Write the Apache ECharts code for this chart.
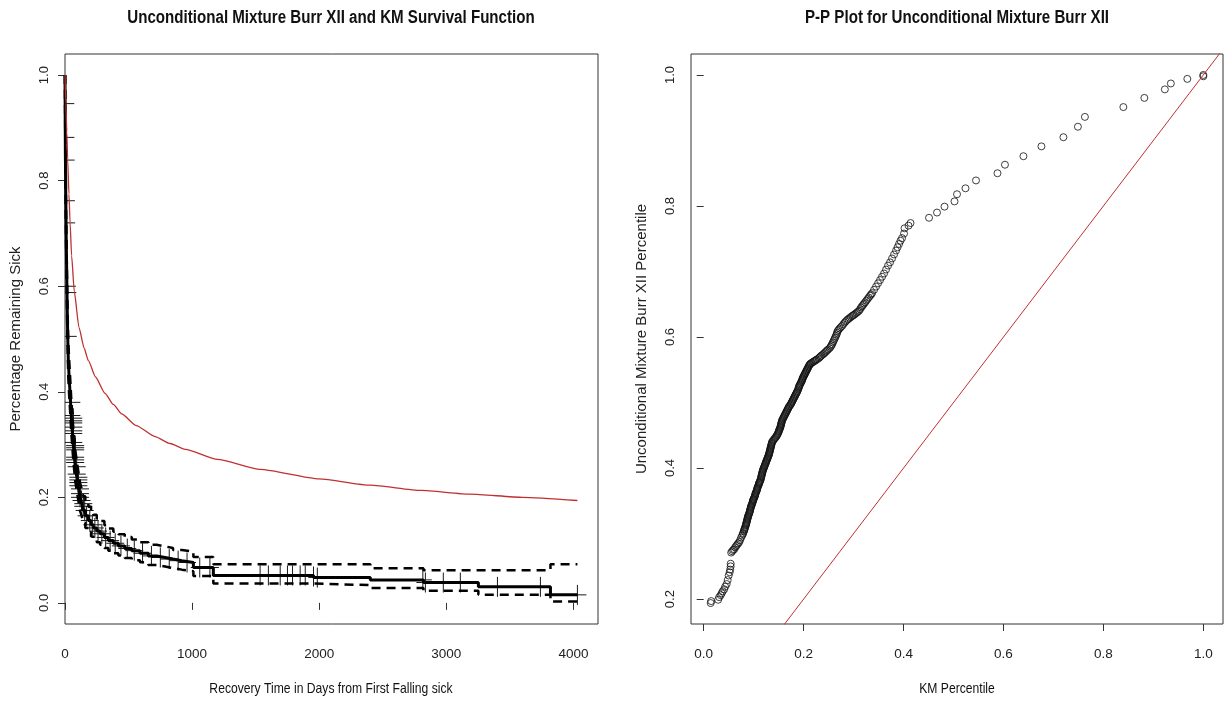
<!DOCTYPE html>
<html><head><meta charset="utf-8">
<script src="https://cdn.jsdelivr.net/npm/echarts@6/dist/echarts.min.js"></script>
<style>html,body{margin:0;padding:0;background:#fff}#c{width:1226px;height:701px}</style>
</head><body><div id="c"></div>
<script>
// ---- Left panel: Kaplan-Meier estimate (step), confidence band, censor marks, fitted survival
const KM_T  = [0,1,2,3,5,7,9,12,15,18,22,26,32,39,50,65,80,92,105,118,130,144,160,184,205,223,250,276,310,341,380,420,470,525,590,656,720,787,850,919,1010,1167,1955,2402,2820,3252,3819,4031];
const KM_S  = [1.0,0.95,0.90,0.85,0.80,0.75,0.70,0.65,0.60,0.55,0.50,0.46,0.43,0.40,0.35,0.30,0.26,0.24,0.22,0.20,0.19,0.175,0.165,0.156,0.148,0.142,0.136,0.131,0.124,0.118,0.113,0.108,0.103,0.099,0.094,0.089,0.086,0.083,0.080,0.0765,0.067,0.052,0.048,0.0436,0.0386,0.0304,0.0152,0.0152];
const KM_UP = [1.0,0.97,0.925,0.88,0.83,0.78,0.735,0.685,0.635,0.585,0.535,0.495,0.464,0.434,0.383,0.332,0.291,0.270,0.249,0.228,0.217,0.202,0.191,0.182,0.173,0.167,0.160,0.155,0.147,0.141,0.135,0.130,0.125,0.120,0.115,0.110,0.107,0.104,0.100,0.097,0.087,0.0734,0.0734,0.0658,0.062,0.062,0.0734,0.0734];
const KM_LO = [1.0,0.93,0.875,0.82,0.77,0.72,0.665,0.615,0.565,0.515,0.465,0.426,0.397,0.368,0.320,0.271,0.232,0.213,0.194,0.175,0.166,0.152,0.142,0.134,0.126,0.121,0.115,0.110,0.104,0.099,0.094,0.090,0.085,0.081,0.077,0.072,0.069,0.066,0.063,0.060,0.051,0.0366,0.0336,0.028,0.0228,0.0152,0.0025,0.0025];
const CENS_T = [2,3,5,7,9,15,18,22,50,50,65,65,65,65,65,65,65,80,80,80,80,80,80,92,92,105,105,105,105,118,118,118,130,144,144,
  155,170,195,215,235,260,290,320,355,395,440,490,545,610,680,750,820,890,960,1060,1140,1535,1600,1693,1750,1790,1850,1890,1955,1985,2815,2835,2976,3110,3402,3740,4031];
const CENS_S = [0.946,0.882,0.839,0.762,0.720,0.600,0.588,0.505,0.380,0.355,0.350,0.345,0.341,0.333,0.326,0.321,0.304,0.298,0.294,0.290,0.276,0.271,0.266,0.258,0.244,0.238,0.233,0.228,0.222,0.216,0.207,0.200,0.194,0.188,0.183,
  0.175,0.165,0.156,0.148,0.142,0.136,0.131,0.124,0.118,0.113,0.108,0.103,0.099,0.094,0.089,0.086,0.083,0.080,0.0765,0.067,0.067,0.052,0.052,0.052,0.052,0.052,0.052,0.052,0.050,0.048,0.0436,0.0386,0.0386,0.0386,0.0304,0.0304,0.0152];
const FIT_T = [0,7,14,21,31,40,52,73,110,150,184,240,315,380,446,560,709,827,945,1200,1535,2000,2402,2800,3189,3600,4031];
const FIT_S = [1.0,0.945,0.893,0.840,0.775,0.720,0.658,0.590,0.522,0.483,0.459,0.428,0.397,0.376,0.358,0.336,0.315,0.302,0.291,0.272,0.253,0.235,0.223,0.213,0.206,0.200,0.194];
const LEFT_X_TICKS = [0,1000,2000,3000,4000];
const LEFT_Y_TICKS = [0,0.2,0.4,0.6,0.8,1.0];

// ---- Right panel: P-P plot (KM percentile, model percentile)
const PP_POINTS = [
[0.014,0.194],[0.015,0.197],[0.029,0.199],[0.031,0.203],[0.034,0.206],[0.036,0.209],[0.038,0.212],[0.041,0.215],[0.043,0.219],[0.046,0.223],[0.048,0.229],[0.050,0.236],[0.052,0.241],[0.053,0.245],[0.054,0.250],[0.054,0.254],
[0.055,0.271],[0.057,0.273],[0.059,0.275],[0.061,0.276],[0.063,0.279],[0.065,0.281],[0.067,0.283],[0.069,0.285],[0.071,0.287],[0.073,0.290],[0.075,0.294],[0.077,0.297],[0.079,0.301],[0.081,0.305],[0.082,0.308],[0.084,0.312],[0.085,0.315],[0.086,0.318],[0.087,0.321],[0.088,0.324],[0.089,0.327],[0.091,0.330],[0.092,0.333],[0.093,0.336],[0.094,0.339],[0.095,0.342],[0.097,0.345],[0.098,0.348],[0.099,0.351],[0.100,0.353],[0.102,0.356],[0.103,0.359],[0.104,0.362],[0.106,0.365],[0.107,0.368],[0.108,0.371],[0.110,0.374],[0.111,0.377],[0.112,0.379],[0.114,0.382],[0.115,0.386],[0.116,0.389],[0.117,0.392],[0.118,0.395],[0.119,0.398],[0.121,0.401],[0.122,0.404],[0.124,0.407],[0.125,0.410],[0.127,0.413],[0.128,0.416],[0.130,0.419],[0.131,0.422],[0.132,0.425],[0.133,0.428],[0.134,0.431],[0.135,0.434],[0.136,0.437],[0.137,0.440],[0.140,0.443],[0.143,0.446],[0.146,0.449],[0.148,0.452],[0.150,0.455],[0.151,0.458],[0.153,0.461],[0.154,0.464],[0.155,0.467],[0.156,0.470],[0.157,0.473],[0.159,0.476],[0.161,0.479],[0.163,0.482],[0.165,0.485],[0.167,0.488],[0.169,0.491],[0.171,0.494],[0.174,0.497],[0.176,0.500],[0.178,0.503],[0.180,0.506],[0.182,0.509],[0.184,0.512],[0.186,0.515],[0.188,0.518],[0.190,0.522],[0.191,0.525],[0.193,0.528],[0.195,0.531],[0.197,0.534],[0.198,0.537],[0.200,0.540],[0.202,0.543],[0.204,0.546],[0.206,0.549],[0.208,0.552],[0.210,0.555],[0.212,0.558],[0.215,0.560],[0.219,0.562],[0.223,0.564],[0.227,0.566],[0.232,0.569],[0.236,0.572],[0.241,0.575],[0.245,0.578],[0.249,0.581],[0.254,0.585],[0.257,0.589],[0.260,0.594],[0.263,0.599],[0.266,0.604],[0.268,0.609],[0.272,0.613],[0.277,0.617],[0.282,0.622],[0.287,0.626],[0.292,0.629],[0.297,0.632],[0.301,0.634],[0.306,0.637],[0.311,0.640],[0.315,0.645],[0.319,0.649],[0.323,0.653],[0.328,0.658],[0.333,0.663],[0.337,0.667],[0.341,0.672],[0.345,0.677],[0.349,0.682],[0.353,0.687],[0.357,0.692],[0.361,0.697],[0.365,0.703],[0.369,0.709],[0.373,0.714],[0.377,0.720],[0.381,0.726],[0.385,0.732],[0.388,0.737],[0.391,0.742],[0.394,0.747],[0.397,0.751],[0.401,0.758],[0.402,0.766],[0.410,0.770],[0.414,0.774],
[0.0785,0.2995],[0.0805,0.3035],[0.0818,0.3065],[0.0832,0.3100],[0.0847,0.3135],[0.0857,0.3165],[0.0867,0.3195],[0.0877,0.3225],[0.0887,0.3255],[0.0898,0.3285],[0.0913,0.3315],[0.0925,0.3345],[0.0935,0.3375],[0.0945,0.3405],[0.0958,0.3435],[0.0973,0.3465],[0.0985,0.3495],[0.0995,0.3520],[0.1010,0.3545],[0.1025,0.3575],[0.1035,0.3605],[0.1050,0.3635],[0.1065,0.3665],[0.1075,0.3695],[0.1090,0.3725],[0.1105,0.3755],[0.1115,0.3780],[0.1130,0.3805],[0.1145,0.3840],[0.1155,0.3875],[0.1165,0.3905],[0.1175,0.3935],[0.1185,0.3965],[0.1200,0.3995],[0.1215,0.4025],[0.1230,0.4055],[0.1245,0.4085],[0.1260,0.4115],[0.1275,0.4145],[0.1290,0.4175],[0.1305,0.4205],[0.1315,0.4235],[0.1325,0.4265],[0.1335,0.4295],[0.1345,0.4325],[0.1355,0.4355],[0.1365,0.4385],[0.1385,0.4415],[0.1415,0.4445],[0.1445,0.4475],[0.1470,0.4505],[0.1490,0.4535],[0.1505,0.4565],[0.1520,0.4595],[0.1535,0.4625],[0.1545,0.4655],[0.1555,0.4685],[0.1565,0.4715],[0.1580,0.4745],[0.1600,0.4775],[0.1620,0.4805],[0.1640,0.4835],[0.1660,0.4865],[0.1680,0.4895],[0.1700,0.4925],[0.1725,0.4955],[0.1750,0.4985],[0.1770,0.5015],[0.1790,0.5045],[0.1810,0.5075],[0.1830,0.5105],[0.1850,0.5135],[0.1870,0.5165],[0.1890,0.5200],[0.1905,0.5235],[0.1920,0.5265],[0.1940,0.5295],[0.1960,0.5325],[0.1975,0.5355],[0.1990,0.5385],[0.2010,0.5415],[0.2030,0.5445],[0.2050,0.5475],[0.2070,0.5505],[0.2090,0.5535],[0.2110,0.5565],[0.2135,0.5590],
[0.217,0.561],[0.221,0.563],[0.225,0.565],[0.230,0.5675],[0.234,0.5705],[0.239,0.5735],[0.243,0.5765],[0.247,0.5795],[0.252,0.583],[0.2555,0.587],[0.2585,0.5915],[0.2615,0.5965],[0.2645,0.6015],[0.267,0.6065],[0.270,0.611],[0.2745,0.615],[0.2795,0.6195],[0.2845,0.624],[0.2895,0.6275],[0.2945,0.6305],[0.299,0.633],[0.3035,0.6355],[0.3085,0.6385],[0.313,0.6425],[0.317,0.647],[0.321,0.651],[0.3255,0.6555],[0.3305,0.6605],[0.335,0.665],
[0.451,0.782],[0.467,0.790],[0.482,0.799],[0.502,0.807],[0.507,0.818],[0.524,0.827],[0.545,0.839],[0.588,0.850],[0.603,0.863],[0.640,0.876],[0.676,0.891],[0.720,0.905],[0.749,0.921],[0.763,0.936],[0.840,0.951],[0.882,0.965],[0.923,0.978],[0.935,0.987],[0.968,0.994],[1.000,0.998],[1.000,1.000]
];
const REF_LINE = [-0.1, 1.1];
const RIGHT_X_TICKS = [0,0.2,0.4,0.6,0.8,1.0];
const RIGHT_Y_TICKS = [0.2,0.4,0.6,0.8,1.0];

const REG = "'Liberation Sans',Arial,sans-serif";
const RED = '#C03030';
const AX = '#333';

function stepData(T, S) {
  const out = [];
  for (let i = 0; i < T.length; i++) {
    if (i > 0) out.push([T[i], S[i - 1]]);
    out.push([T[i], S[i]]);
  }
  return out;
}
const zip = (a, b) => a.map((v, i) => [v, b[i]]);

function xAxisCfg(grid, min, max, ticks, fmt) {
  return {
    gridIndex: grid, type: 'value', min: min, max: max,
    axisLine: {show: false}, splitLine: {show: false},
    axisTick: {show: true, customValues: ticks, length: 7, lineStyle: {color: AX}},
    axisLabel: {customValues: ticks, margin: 23, fontFamily: REG, fontSize: 13.5, color: '#222', formatter: fmt}
  };
}
function yAxisCfg(grid, min, max, ticks, name) {
  return {
    gridIndex: grid, type: 'value', min: min, max: max,
    axisLine: {show: false}, splitLine: {show: false},
    axisTick: {show: true, customValues: ticks, length: 7, lineStyle: {color: AX}},
    axisLabel: {customValues: ticks, rotate: 90, margin: 14, fontFamily: REG, fontSize: 13, color: '#222',
      formatter: v => Number(v).toFixed(1)},
    name: name, nameLocation: 'middle', nameGap: 42,
    nameTextStyle: {fontFamily: REG, fontSize: 15, color: '#222'}
  };
}
function label(x, y, text, font, sx) {
  return {type: 'text', x: x, y: y, scaleX: sx, silent: true,
    style: {text: text, font: font, fill: '#111', align: 'center', verticalAlign: 'middle',
            textAlign: 'center', textVerticalAlign: 'middle'}};
}

const chart = echarts.init(document.getElementById('c'), null, {renderer: 'canvas'});
chart.setOption({
  animation: false,
  backgroundColor: '#fff',
  grid: [
    {left: 65, top: 54, width: 533, height: 570, show: true, borderColor: AX, borderWidth: 1, backgroundColor: 'transparent'},
    {left: 691, top: 54, width: 532, height: 570, show: true, borderColor: AX, borderWidth: 1, backgroundColor: 'transparent'}
  ],
  xAxis: [
    xAxisCfg(0, 0, 4193, LEFT_X_TICKS, v => String(v)),
    xAxisCfg(1, -0.0254, 1.0394, RIGHT_X_TICKS, v => Number(v).toFixed(1))
  ],
  yAxis: [
    yAxisCfg(0, -0.04, 1.04, LEFT_Y_TICKS, 'Percentage Remaining Sick'),
    yAxisCfg(1, 0.162, 1.032, RIGHT_Y_TICKS, 'Unconditional Mixture Burr XII Percentile')
  ],
  graphic: [
    label(331, 18.5, 'Unconditional Mixture Burr XII and KM Survival Function', "bold 18px " + REG, 0.84),
    label(957, 18.5, 'P-P Plot for Unconditional Mixture Burr XII', "bold 18px " + REG, 0.84),
    label(331, 689, 'Recovery Time in Days from First Falling sick', "15px " + REG, 0.81),
    label(957, 689, 'KM Percentile', "15px " + REG, 0.81)
  ],
  series: [
    {type: 'line', xAxisIndex: 0, yAxisIndex: 0, data: stepData(KM_T, KM_UP), showSymbol: false, silent: true,
      lineStyle: {color: '#000', width: 2.5, type: [9, 6]}},
    {type: 'line', xAxisIndex: 0, yAxisIndex: 0, data: stepData(KM_T, KM_LO), showSymbol: false, silent: true,
      lineStyle: {color: '#000', width: 2.5, type: [9, 6]}},
    {type: 'line', xAxisIndex: 0, yAxisIndex: 0, data: stepData(KM_T, KM_S), showSymbol: false, silent: true,
      lineStyle: {color: '#000', width: 3}},
    {type: 'custom', xAxisIndex: 0, yAxisIndex: 0, data: zip(CENS_T, CENS_S), clip: true, silent: true,
      encode: {x: 0, y: 1},
      renderItem: function (params, api) {
        const p = api.coord([api.value(0), api.value(1)]);
        return {type: 'group', children: [
          {type: 'line', shape: {x1: p[0] - 9, y1: p[1], x2: p[0] + 9, y2: p[1]}, style: {stroke: '#1a1a1a', lineWidth: 1}},
          {type: 'line', shape: {x1: p[0], y1: p[1] - 10, x2: p[0], y2: p[1] + 10}, style: {stroke: '#1a1a1a', lineWidth: 1}}
        ]};
      }},
    {type: 'line', xAxisIndex: 0, yAxisIndex: 0, data: zip(FIT_T, FIT_S), showSymbol: false, silent: true,
      smooth: 0.2, smoothMonotone: 'x', lineStyle: {color: RED, width: 1.3}},
    {type: 'scatter', xAxisIndex: 1, yAxisIndex: 1, data: PP_POINTS, symbol: 'circle', symbolSize: 7, silent: true,
      itemStyle: {color: 'transparent', borderColor: '#111', borderWidth: 1}},
    {type: 'line', xAxisIndex: 1, yAxisIndex: 1, data: zip(REF_LINE, REF_LINE), showSymbol: false, silent: true, clip: true,
      lineStyle: {color: RED, width: 1}}
  ]
});
</script>
</body></html>
